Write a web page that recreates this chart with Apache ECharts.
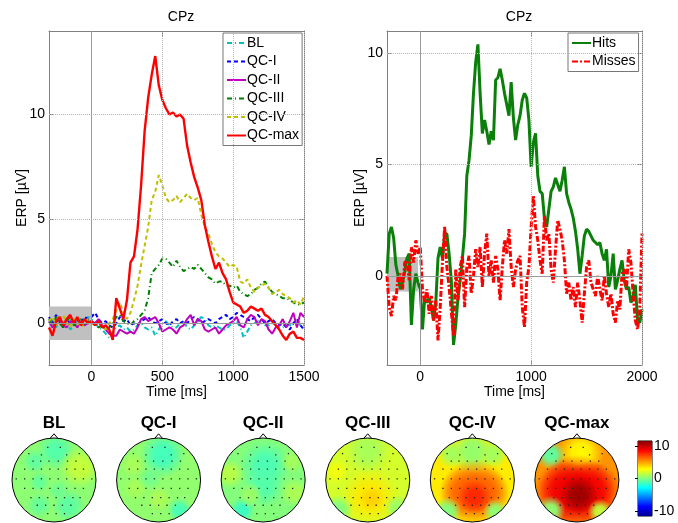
<!DOCTYPE html>
<html>
<head>
<meta charset="utf-8">
<script src="https://cdn.jsdelivr.net/npm/echarts@6/dist/echarts.min.js"></script>
<style>html,body{margin:0;background:#fff}#main{width:678px;height:523px}</style>
</head>
<body>
<div id="main"></div>
<script>
var FONT = "'Liberation Sans', Arial, sans-serif";

// left panel: ERP at CPz per condition, 25 ms steps starting at -300 ms
var leftStart = -300, leftStep = 25;
var leftXTicks = [0, 500, 1000, 1500];
var leftYTicks = [0, 5, 10];
var blVals = [0.0, 0.2, -0.2, 0.1, -0.1, 0.0, -0.3, -0.1, 0.1, 0.0,
  0.2, 0.3, 0.2, 0.0, -0.2, -0.3, -0.5, -0.7, -0.4, -0.2,
  -0.1, -0.3, -0.2, -0.4, -0.3, -0.1, 0.0, -0.2, -0.3, -0.2,
  -0.6, -0.3, 0.0, 0.1, -0.1, -0.2, -0.2, 0.0, 0.1, -0.2,
  -0.3, -0.1, 0.1, 0.3, 0.2, -0.1, -0.2, -0.1, -0.2, -0.3,
  -0.3, -0.1, 0.0, 0.1, -0.2, -0.7, -0.4, -0.1, 0.0, 0.1,
  0.0, -0.1, -0.1, 0.0, -0.1, -0.2, -0.2, -0.1, -0.1, 0.0,
  0.1, -0.1, -0.1];
var qc1Vals = [0.3, 0.0, 0.4, 0.1, -0.2, 0.2, 0.0, -0.1, 0.2, 0.0,
  0.3, 0.2, 0.3, 0.5, 0.2, 0.0, 0.1, -0.1, -0.2, 0.0,
  0.3, 0.1, 0.2, -0.1, 0.0, -0.1, 0.1, 0.2, 0.3, 0.1,
  0.0, 0.1, 0.2, 0.0, -0.1, 0.1, 0.2, 0.0, 0.1, 0.0,
  0.2, 0.3, 0.2, 0.0, 0.1, 0.2, 0.1, 0.0, 0.2, 0.3,
  0.4, 0.2, 0.3, 0.5, 0.4, 0.3, 0.2, 0.1, 0.3, 0.4,
  0.2, 0.0, 0.1, 0.2, 0.0, -0.1, 0.0, -0.2, -0.3, 0.0,
  0.2, -0.1, -0.3];
var qc2Vals = [0.1, -0.2, 0.0, 0.2, -0.1, -0.2, 0.1, 0.0, -0.2, 0.1,
  -0.1, 0.0, 0.1, 0.0, 0.2, -0.1, -0.3, -0.5, -0.6, -0.6,
  -0.3, -0.4, -0.5, -0.4, -0.5, -0.2, 0.2, 0.3, 0.1, 0.2,
  0.3, 0.0, -0.4, -0.3, -0.2, -0.3, -0.5, -0.2, -0.1, 0.2,
  0.4, -0.1, 0.2, 0.1, -0.3, -0.4, -0.3, -0.2, -0.5, -0.3,
  -0.1, 0.0, 0.1, 0.3, -0.1, -0.2, 0.2, 0.4, 0.3, -0.1,
  0.2, 0.1, -0.3, -0.5, -0.2, -0.1, 0.2, -0.2, 0.1, 0.5,
  -0.2, 0.5, 0.3];
var qc3Vals = [0.2, -0.1, 0.3, 0.0, -0.2, 0.1, 0.3, -0.1, 0.0, 0.2,
  -0.1, 0.1, 0.0, -0.1, -0.2, -0.1, -0.3, -0.2, 0.0, 0.3,
  0.4, 0.1, 0.0, -0.1, 0.1, 0.2, 0.4, 0.6, 1.2, 2.4,
  2.6, 2.8, 3.1, 3.1, 2.9, 2.7, 3.0, 2.7, 2.5, 2.6,
  2.7, 2.6, 2.8, 2.6, 2.4, 2.2, 2.1, 1.9, 2.0, 2.0,
  1.8, 1.8, 1.7, 1.8, 1.5, 1.4, 1.3, 1.4, 1.6, 1.7,
  1.9, 2.0, 1.7, 1.5, 1.4, 1.3, 1.2, 1.2, 1.1, 1.0,
  0.9, 0.9, 1.0];
var qc4Vals = [0.1, 0.3, -0.1, 0.2, 0.4, 0.0, -0.2, 0.2, 0.1, -0.2,
  0.1, 0.2, 0.0, -0.1, 0.1, -0.2, -0.3, 0.0, 0.2, 0.6,
  1.0, 0.5, 0.2, 0.5, 1.1, 1.8, 2.8, 3.7, 4.6, 5.9,
  6.3, 7.1, 6.6, 6.0, 5.8, 5.9, 6.1, 5.8, 6.0, 6.2,
  6.0, 5.9, 6.0, 5.2, 4.6, 4.3, 3.8, 3.4, 3.2, 3.1,
  2.9, 2.7, 2.8, 2.7, 2.0, 1.9, 2.1, 1.7, 1.5, 1.7,
  1.8, 1.9, 1.7, 1.4, 1.5, 1.6, 1.4, 1.3, 1.2, 1.0,
  1.1, 0.9, 1.3];
var qcMaxVals = [-0.2, -0.6, 0.1, 0.3, -0.1, 0.2, 0.4, 0.0, 0.3, -0.1,
  0.2, 0.0, 0.1, -0.1, 0.1, -0.2, -0.1, -0.3, -0.8, 1.2,
  0.7, 0.2, 1.1, 2.9, 3.2, 4.5, 6.6, 9.2, 10.8, 11.9,
  12.8, 11.4, 10.7, 10.3, 10.0, 10.1, 9.9, 10.0, 9.8, 8.5,
  7.7, 7.0, 6.5, 5.9, 4.7, 3.9, 3.2, 2.6, 2.9, 2.4,
  2.1, 1.5, 1.0, 0.9, 0.8, 0.5, 0.6, 0.8, 0.7, 0.6,
  0.7, 0.4, 0.3, 0.1, -0.1, -0.3, -0.6, -0.8, -0.5, -0.4,
  -0.7, -0.7, -0.8];

// right panel: hits vs misses, 20 ms steps starting at -300 ms
var rightStart = -300, rightStep = 20;
var rightXTicks = [0, 1000, 2000];
var rightYTicks = [0, 5, 10];
var hitsVals = [0.1, 1.9, 2.2, 1.7, 0.5, 0.0, -0.6, -0.3, 0.2, 0.8,
  1.0, -2.2, -0.6, 0.1, -0.3, -0.6, -2.4, -1.0, -1.2, -1.0,
  -1.4, -2.0, -1.2, 0.8, 1.3, 0.8, 1.9, 1.9, 1.0, -0.2,
  -3.1, -2.2, -1.0, -0.2, 0.8, 1.9, 4.5, 5.2, 6.3, 8.2,
  9.6, 10.4, 8.2, 6.4, 7.0, 6.5, 5.9, 6.5, 6.1, 8.8,
  8.9, 9.3, 8.8, 8.2, 7.7, 7.2, 8.7, 7.1, 6.1, 6.8,
  7.2, 7.9, 8.2, 8.0, 7.0, 4.9, 6.0, 6.4, 4.5, 3.8,
  3.7, 2.6, 2.2, 3.0, 3.8, 4.0, 4.4, 4.1, 3.8, 4.3,
  4.9, 3.7, 3.3, 3.0, 2.6, 2.0, 1.2, 0.1, 0.9, 1.8,
  2.1, 2.0, 1.8, 1.6, 1.5, 1.4, 1.5, 1.0, 0.7, 1.2,
  -0.5, 0.0, 1.0, -0.6, -0.2, 0.3, 0.7, -0.2, -0.6, -0.5,
  -1.2, -0.9, -0.4, -2.0, -2.1, -1.5];
var missesVals = [0.0, -1.4, -1.8, -0.9, -1.1, 0.0, 0.1, -0.6, 0.6, 0.7,
  -0.2, 1.3, 0.6, 1.6, 1.0, 1.3, -0.6, -1.2, -0.6, -1.7,
  -0.9, -2.0, -1.1, -2.9, -1.4, 0.6, 2.2, 0.4, -0.5, -1.6,
  -2.7, 0.3, -1.1, 0.4, 0.9, -1.4, 0.4, 0.9, -0.8, 0.0,
  1.2, 0.4, 1.3, -0.5, 1.0, 1.9, 0.0, 0.7, -0.3, 0.9,
  0.3, -1.1, 0.4, 1.6, 1.0, 2.1, 0.4, -0.5, 0.3, 0.7,
  0.9, -1.4, -2.3, -0.3, 0.4, 2.2, 3.6, 2.2, 1.6, 0.7,
  0.1, 2.7, 1.6, 1.9, 0.3, -0.3, 1.2, 2.5, 2.1, 1.6,
  0.7, -0.8, -0.3, -1.1, -0.5, -1.4, -0.3, -1.1, -2.1, -0.8,
  0.4, 0.7, -0.3, -0.6, -0.9, 0.0, -0.6, -1.1, 0.0, -0.8,
  -1.4, -0.8, -1.7, -2.1, -1.1, -1.5, 0.1, 0.3, -0.6, 1.2,
  0.6, -0.8, -2.0, -2.4, -1.4, 1.9];

// baseline windows (gray boxes): [t0, t1, lo, hi]
var leftBaseline = [-300, 0, -0.8, 0.8];
var rightBaseline = [-300, -20, -0.7, 0.85];

// topographies: head units, radius 1, nose up
var topoTitles = ['BL', 'QC-I', 'QC-II', 'QC-III', 'QC-IV', 'QC-max'];
var topoBase = [0.3, 0.4, 0.1, 1.9, 3.3, 5.3];
// [map, x, y, value, radius]
var topoSpots = [
  [0, 0.05, 0.7, -1.0, 0.45], [0, 0.62, 0.3, 1.6, 0.5], [0, -0.45, 0.45, -0.7, 0.3],
  [0, 0.35, -0.62, -0.8, 0.4], [0, -0.35, -0.6, -0.6, 0.3], [0, -0.35, -0.05, -0.6, 0.25],
  [0, 0.1, -0.25, -0.4, 0.25],
  [1, 0.1, 0.6, -1.4, 0.55], [1, -0.6, 0.35, 0.9, 0.3], [1, -0.55, -0.2, 0.9, 0.3],
  [1, 0.0, -0.45, 1.0, 0.3], [1, 0.5, -0.72, -1.3, 0.3], [1, -0.2, 0.05, -0.3, 0.3],
  [2, 0.05, 0.35, -1.2, 0.6], [2, 0.0, -0.15, -1.0, 0.5], [2, -0.8, 0.15, 1.3, 0.35],
  [2, 0.7, 0.45, 0.8, 0.3], [2, 0.75, -0.3, 1.0, 0.35], [2, -0.5, -0.72, -1.6, 0.3],
  [2, -0.3, -0.35, 0.6, 0.3],
  [3, 0.05, -0.4, 3.4, 0.7], [3, 0.1, -0.45, 3.9, 0.3], [3, 0.0, 0.7, 0.9, 0.55],
  [3, -0.7, -0.7, 0.0, 0.35], [3, 0.7, -0.65, 0.6, 0.3], [3, -0.75, 0.2, 2.6, 0.3],
  [4, 0.0, 0.68, 0.4, 0.55], [4, -0.5, 0.62, 0.8, 0.35], [4, 0.5, 0.62, 0.8, 0.35],
  [4, -0.2, -0.3, 6.0, 0.6], [4, 0.3, -0.3, 6.0, 0.6],
  [4, 0.05, -0.3, 6.5, 0.8], [4, 0.05, -0.4, 7.8, 0.4], [4, -0.6, -0.75, 0.0, 0.35],
  [4, 0.55, -0.75, 0.3, 0.3],
  [5, 0.1, 0.65, 3.0, 0.55], [5, -0.62, 0.6, -0.8, 0.35],
  [5, -0.3, -0.25, 8.5, 0.7], [5, 0.35, -0.25, 8.5, 0.7], [5, 0.0, -0.3, 9.0, 0.9],
  [5, 0.05, -0.35, 10.8, 0.45], [5, -0.62, -0.72, 0.3, 0.35], [5, 0.55, -0.75, 1.5, 0.3]
];
var electrodes = [
  [-0.15, 0.78], [0.15, 0.78],
  [-0.6, 0.63], [-0.3, 0.6], [0.3, 0.6], [0.6, 0.63],
  [-0.5, 0.45], [-0.32, 0.45], [-0.12, 0.45], [0.1, 0.45], [0.32, 0.45], [0.52, 0.45],
  [-0.7, 0.26], [-0.5, 0.26], [-0.3, 0.26], [-0.1, 0.26], [0.1, 0.26], [0.3, 0.26], [0.5, 0.26], [0.7, 0.26],
  [-0.9, 0.03], [-0.7, 0.03], [-0.5, 0.03], [-0.3, 0.03], [-0.1, 0.03], [0.1, 0.03], [0.3, 0.03], [0.5, 0.03], [0.7, 0.03], [0.9, 0.03],
  [-0.7, -0.2], [-0.5, -0.2], [-0.3, -0.2], [-0.1, -0.2], [0.1, -0.2], [0.3, -0.2], [0.5, -0.2], [0.7, -0.2],
  [-0.55, -0.42], [-0.35, -0.42], [-0.15, -0.42], [0.05, -0.42], [0.25, -0.42], [0.45, -0.42], [0.62, -0.42],
  [-0.4, -0.6], [-0.2, -0.6], [0.0, -0.6], [0.2, -0.6], [0.4, -0.6],
  [-0.15, -0.8], [0.05, -0.8], [0.25, -0.8]
];
var cbRange = [-11.5, 11.5];
var cbTicks = [-10, 0, 10];
var jetColors = ['#00008f', '#0000ff', '#0080ff', '#00ffff', '#80ff80', '#ffff00', '#ff8000', '#ff0000', '#800000'];
var mapGap = 2.49;

function pairs(vals, start, step) {
  return vals.map(function (v, i) { return [start + i * step, v]; });
}
function plain(v) { return String(v); }

var frame = '#808080';
function mainX(grid, min, max, ticks, top) {
  return {
    gridIndex: grid, type: 'value', min: min, max: max, position: top ? 'top' : 'bottom',
    axisLine: { show: true, onZero: false, lineStyle: { color: frame } },
    axisTick: { show: true, inside: true, length: 5, customValues: ticks, lineStyle: { color: frame } },
    axisLabel: { show: !top, customValues: ticks, formatter: plain, color: '#000', fontSize: 14, fontFamily: FONT, margin: 5 },
    splitLine: { show: false },
    name: top ? '' : 'Time [ms]', nameLocation: 'middle', nameGap: 20, nameMoveOverlap: false,
    nameTextStyle: { color: '#000', fontSize: 14, fontFamily: FONT }
  };
}
function mainY(grid, min, max, ticks, right) {
  return {
    gridIndex: grid, type: 'value', min: min, max: max, position: right ? 'right' : 'left',
    axisLine: { show: true, onZero: false, lineStyle: { color: frame } },
    axisTick: { show: true, inside: true, length: 5, customValues: ticks, lineStyle: { color: frame } },
    axisLabel: { show: !right, customValues: ticks, formatter: plain, color: '#000', fontSize: 14, fontFamily: FONT, margin: 4 },
    splitLine: { show: false },
    name: right ? '' : 'ERP [\u00b5V]', nameLocation: 'middle', nameGap: 20, nameRotate: 90, nameMoveOverlap: false,
    nameTextStyle: { color: '#000', fontSize: 14, fontFamily: FONT }
  };
}
function guides(xTicks, yTicks) {
  var dotted = { color: '#b4b4b4', type: 'dotted', width: 1 };
  var solid = { color: '#9a9a9a', type: 'solid', width: 1 };
  var d = [];
  xTicks.forEach(function (t) { d.push({ xAxis: t, lineStyle: t === 0 ? solid : dotted }); });
  yTicks.forEach(function (t) { d.push({ yAxis: t, lineStyle: t === 0 ? solid : dotted }); });
  return { silent: true, symbol: 'none', label: { show: false }, animation: false, data: d };
}
function helper(ax, box, xTicks, yTicks) {
  return {
    type: 'line', xAxisIndex: ax, yAxisIndex: ax, data: [], silent: true,
    markArea: { silent: true, itemStyle: { color: '#c0c0c0' },
      data: [[{ xAxis: box[0], yAxis: box[2] }, { xAxis: box[1], yAxis: box[3] }]] },
    markLine: guides(xTicks, yTicks)
  };
}
function trace(name, vals, start, step, ax, color, width, type) {
  return {
    name: name, type: 'line', xAxisIndex: ax, yAxisIndex: ax, symbol: 'none',
    data: pairs(vals, start, step),
    lineStyle: { color: color, width: width, type: type }, itemStyle: { color: color }
  };
}
function legendBox(names, left) {
  return {
    data: names, orient: 'vertical', left: left, top: 33,
    itemWidth: 19, itemHeight: 14, itemGap: 4.5, padding: [3, 3, 3, 3],
    borderColor: '#777', borderWidth: 1, backgroundColor: '#fff',
    itemStyle: { opacity: 0, borderWidth: 0 },
    textStyle: { fontSize: 14, color: '#000', fontFamily: FONT, padding: [0, 0, 0, -4] }
  };
}

var chart = echarts.init(document.getElementById('main'), null, { renderer: 'canvas' });
var option = {
  animation: false,
  backgroundColor: '#fff',
  title: [
    { text: 'CPz', left: 176, top: 5, textAlign: 'center', textStyle: { fontSize: 14, fontWeight: 'normal', color: '#000', fontFamily: FONT } },
    { text: 'CPz', left: 514, top: 5, textAlign: 'center', textStyle: { fontSize: 14, fontWeight: 'normal', color: '#000', fontFamily: FONT } }
  ],
  legend: [
    legendBox(['BL', 'QC-I', 'QC-II', 'QC-III', 'QC-IV', 'QC-max'], 223),
    legendBox(['Hits', 'Misses'], 568)
  ],
  grid: [
    { left: 49, top: 31, width: 255, height: 334 },
    { left: 387, top: 31, width: 255, height: 334 },
    { left: 12, top: 438, width: 609, height: 84 },
    { left: 638, top: 441, width: 14, height: 75, show: true, borderColor: '#000', borderWidth: 1 }
  ],
  xAxis: [
    mainX(0, -300, 1500, leftXTicks, false),
    mainX(0, -300, 1500, leftXTicks, true),
    mainX(1, -300, 2000, rightXTicks, false),
    mainX(1, -300, 2000, rightXTicks, true),
    { gridIndex: 2, type: 'value', min: -1, max: 13.5, show: false },
    { gridIndex: 3, type: 'value', min: 0, max: 1, show: false }
  ],
  yAxis: [
    mainY(0, -2, 14, leftYTicks, false),
    mainY(0, -2, 14, leftYTicks, true),
    mainY(1, -4, 11, rightYTicks, false),
    mainY(1, -4, 11, rightYTicks, true),
    { gridIndex: 2, type: 'value', min: -1, max: 1, show: false },
    { gridIndex: 3, type: 'value', min: cbRange[0], max: cbRange[1], position: 'right',
      axisLine: { show: false }, splitLine: { show: false },
      axisTick: { show: true, inside: true, length: 3, customValues: cbTicks, lineStyle: { color: '#000' } },
      axisLabel: { customValues: cbTicks, formatter: plain, color: '#000', fontSize: 14, fontFamily: FONT, margin: 2 } }
  ],
  visualMap: [{
    type: 'continuous', show: false, min: cbRange[0], max: cbRange[1], dimension: 3,
    seriesIndex: [10, 11], inRange: { color: jetColors }
  }],
  series: [
    helper(0, leftBaseline, leftXTicks, leftYTicks),
    trace('BL', blVals, leftStart, leftStep, 0, '#00bfbf', 2, [5, 3, 1, 3]),
    trace('QC-I', qc1Vals, leftStart, leftStep, 0, '#0000ff', 2, [4, 3]),
    trace('QC-II', qc2Vals, leftStart, leftStep, 0, '#bf00bf', 2, 'solid'),
    trace('QC-III', qc3Vals, leftStart, leftStep, 0, '#008000', 2, [5, 3, 1, 3]),
    trace('QC-IV', qc4Vals, leftStart, leftStep, 0, '#bfbf00', 2, [4, 3]),
    trace('QC-max', qcMaxVals, leftStart, leftStep, 0, '#ff0000', 2.4, 'solid'),
    helper(2, rightBaseline, rightXTicks, rightYTicks),
    trace('Hits', hitsVals, rightStart, rightStep, 2, '#0a800a', 3, 'solid'),
    trace('Misses', missesVals, rightStart, rightStep, 2, '#ff0000', 3, [6, 2, 2, 2]),
    // 10: head discs coloured by base potential
    { type: 'custom', xAxisIndex: 4, yAxisIndex: 4, silent: true,
      data: topoBase.map(function (v, i) { return [i, 0, 0, v, 1]; }),
      renderItem: function (p, api) {
        var c = api.coord([api.value(0) * mapGap, 0]);
        var s = api.size([1, 1]);
        return { type: 'circle', shape: { cx: c[0], cy: c[1], r: s[0] }, style: { fill: api.visual('color') } };
      } },
    // 11: local maxima / minima
    { type: 'custom', xAxisIndex: 4, yAxisIndex: 4, silent: true,
      data: topoSpots,
      renderItem: function (p, api) {
        var c = api.coord([api.value(0) * mapGap + api.value(1), api.value(2)]);
        var s = api.size([api.value(4), api.value(4)]);
        var col = api.visual('color');
        return { type: 'circle', shape: { cx: c[0], cy: c[1], r: s[0] },
          style: { fill: { type: 'radial', x: 0.5, y: 0.5, r: 0.5, colorStops: [
            { offset: 0, color: col },
            { offset: 0.4, color: echarts.color.modifyAlpha(col, 0.9) },
            { offset: 1, color: echarts.color.modifyAlpha(col, 0) }] } } };
      } },
    // 12: white mask outside each head
    { type: 'custom', xAxisIndex: 4, yAxisIndex: 4, silent: true,
      data: topoTitles.map(function (t, i) { return [i]; }),
      renderItem: function (p, api) {
        var c = api.coord([api.value(0) * mapGap, 0]);
        var s = api.size([1, 1]);
        return { type: 'ring', shape: { cx: c[0], cy: c[1], r: s[0] + 13, r0: s[0] }, style: { fill: '#fff' } };
      } },
    // 13: electrode positions
    { type: 'custom', xAxisIndex: 4, yAxisIndex: 4, silent: true,
      data: electrodes,
      renderItem: function (p, api) {
        var kids = [];
        for (var m = 0; m < topoTitles.length; m++) {
          var c = api.coord([m * mapGap + api.value(0), api.value(1)]);
          kids.push({ type: 'rect', shape: { x: c[0] - 0.6, y: c[1] - 0.6, width: 1.3, height: 1.3 }, style: { fill: '#222' } });
        }
        return { type: 'group', children: kids };
      } },
    // 14: head outline, nose and title
    { type: 'custom', xAxisIndex: 4, yAxisIndex: 4, silent: true,
      data: topoTitles.map(function (t, i) { return [i]; }),
      renderItem: function (p, api) {
        var m = api.value(0);
        var c = api.coord([m * mapGap, 0]);
        var s = api.size([1, 1]);
        var nl = api.coord([m * mapGap - 0.09, 0.995]);
        var nt = api.coord([m * mapGap, 1.1]);
        var nr = api.coord([m * mapGap + 0.09, 0.995]);
        var tt = api.coord([m * mapGap, 1.36]);
        return { type: 'group', children: [
          { type: 'circle', shape: { cx: c[0], cy: c[1], r: s[0] }, style: { fill: 'none', stroke: '#000', lineWidth: 1 } },
          { type: 'polyline', shape: { points: [nl, nt, nr] }, style: { fill: 'none', stroke: '#000', lineWidth: 1 } },
          { type: 'text', x: tt[0], y: tt[1], style: { text: topoTitles[m], fill: '#000',
            font: 'bold 17px ' + FONT, align: 'center', verticalAlign: 'middle' } }
        ] };
      } },
    // 15: colour bar
    { type: 'custom', xAxisIndex: 5, yAxisIndex: 5, silent: true,
      data: [[0, cbRange[0], cbRange[1]]],
      renderItem: function (p, api) {
        var a = api.coord([0, api.value(2)]);
        var b = api.coord([1, api.value(1)]);
        var n = jetColors.length;
        return { type: 'rect', shape: { x: a[0], y: a[1], width: b[0] - a[0], height: b[1] - a[1] },
          style: { fill: { type: 'linear', x: 0, y: 0, x2: 0, y2: 1,
            colorStops: jetColors.slice().reverse().map(function (col, i) { return { offset: i / (n - 1), color: col }; }) } } };
      } }
  ]
};
chart.setOption(option);
</script>
</body>
</html>
